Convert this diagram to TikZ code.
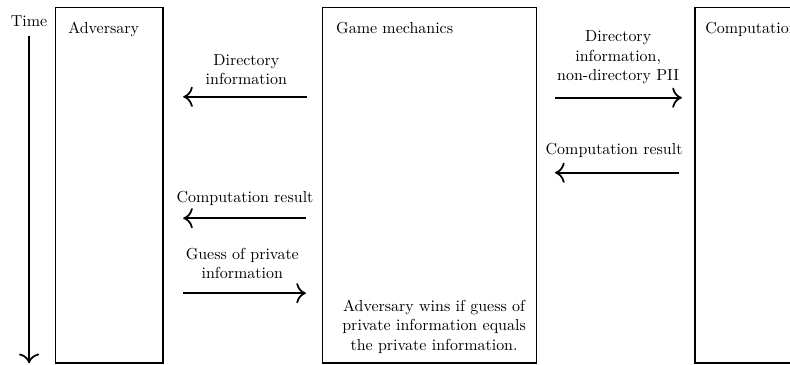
\documentclass[tikz,border=0pt]{standalone}
\usepackage{tikz}
\usetikzlibrary{arrows.meta,positioning}

\begin{document}
\begin{tikzpicture}[
        party/.style={draw, line width=1.1pt, inner sep=0pt, outer sep=0pt, minimum height=7.82cm},
        title/.style={anchor=base west, inner sep=0pt},
        msg/.style={align=center, inner sep=0pt},
        flow/.style={-{To[scale=1.5]}, line width=1.1pt}
    ]
        % Frame
        \useasboundingbox (0,0) rectangle (17.38,-8.03);
        \clip (0,0) rectangle (17.38,-8.03);
        
        % Time axis
        \node[inner sep=0pt] (time) at (0.64,-0.46) {Time};
        \coordinate (tstart) at (0.64,-0.79);
        \coordinate (tend) at (0.64,-7.99);
        \draw[flow] (tstart) -- (tend);
        
        % Parties
        \node[party, minimum width=2.365cm] (adv) at (2.404,-4.076) {};
        \node[party, minimum width=4.71cm] (game) at (9.45,-4.076) {};
        \node[party, minimum width=4.7cm] (comp) at (17.64,-4.076) {};
        \node[title] (advlbl) at (1.496,-0.748) {Adversary};
        \node[title] (gamelbl) at (7.39,-0.748) {Game mechanics};
        \node[title] (complbl) at (15.51,-0.748) {Computation};
        
        % Directory information
        \node[msg] (dir) at (5.42,-1.53) {Directory\\information};
        \coordinate (dirs) at (6.75,-2.13);
        \coordinate (dire) at (4.03,-2.13);
        \draw[flow] (dirs) -- (dire);
        
        % Directory information and PII
        \node[msg] (pii) at (13.6,-1.26) {Directory\\information,\\non-directory PII};
        \coordinate (piis) at (12.22,-2.15);
        \coordinate (piie) at (15.0,-2.15);
        \draw[flow] (piis) -- (piie);
        
        % Computation result
        \node[msg] (res) at (13.51,-3.32) {Computation result};
        \coordinate (ress) at (14.94,-3.8);
        \coordinate (rese) at (12.21,-3.8);
        \draw[flow] (ress) -- (rese);
        
        % Computation result to adversary
        \node[msg] (resa) at (5.39,-4.36) {Computation result};
        \coordinate (resas) at (6.73,-4.8);
        \coordinate (resae) at (4.03,-4.8);
        \draw[flow] (resas) -- (resae);
        
        % Guess
        \node[msg] (guess) at (5.33,-5.8) {Guess of private\\information};
        \coordinate (guesss) at (4.03,-6.45);
        \coordinate (guesse) at (6.73,-6.45);
        \draw[flow] (guesss) -- (guesse);
        
        % Winning condition
        \node[msg] (win) at (9.55,-7.19) {Adversary wins if guess of\\private information equals\\the private information.};
        
    \end{tikzpicture}
\end{document}
